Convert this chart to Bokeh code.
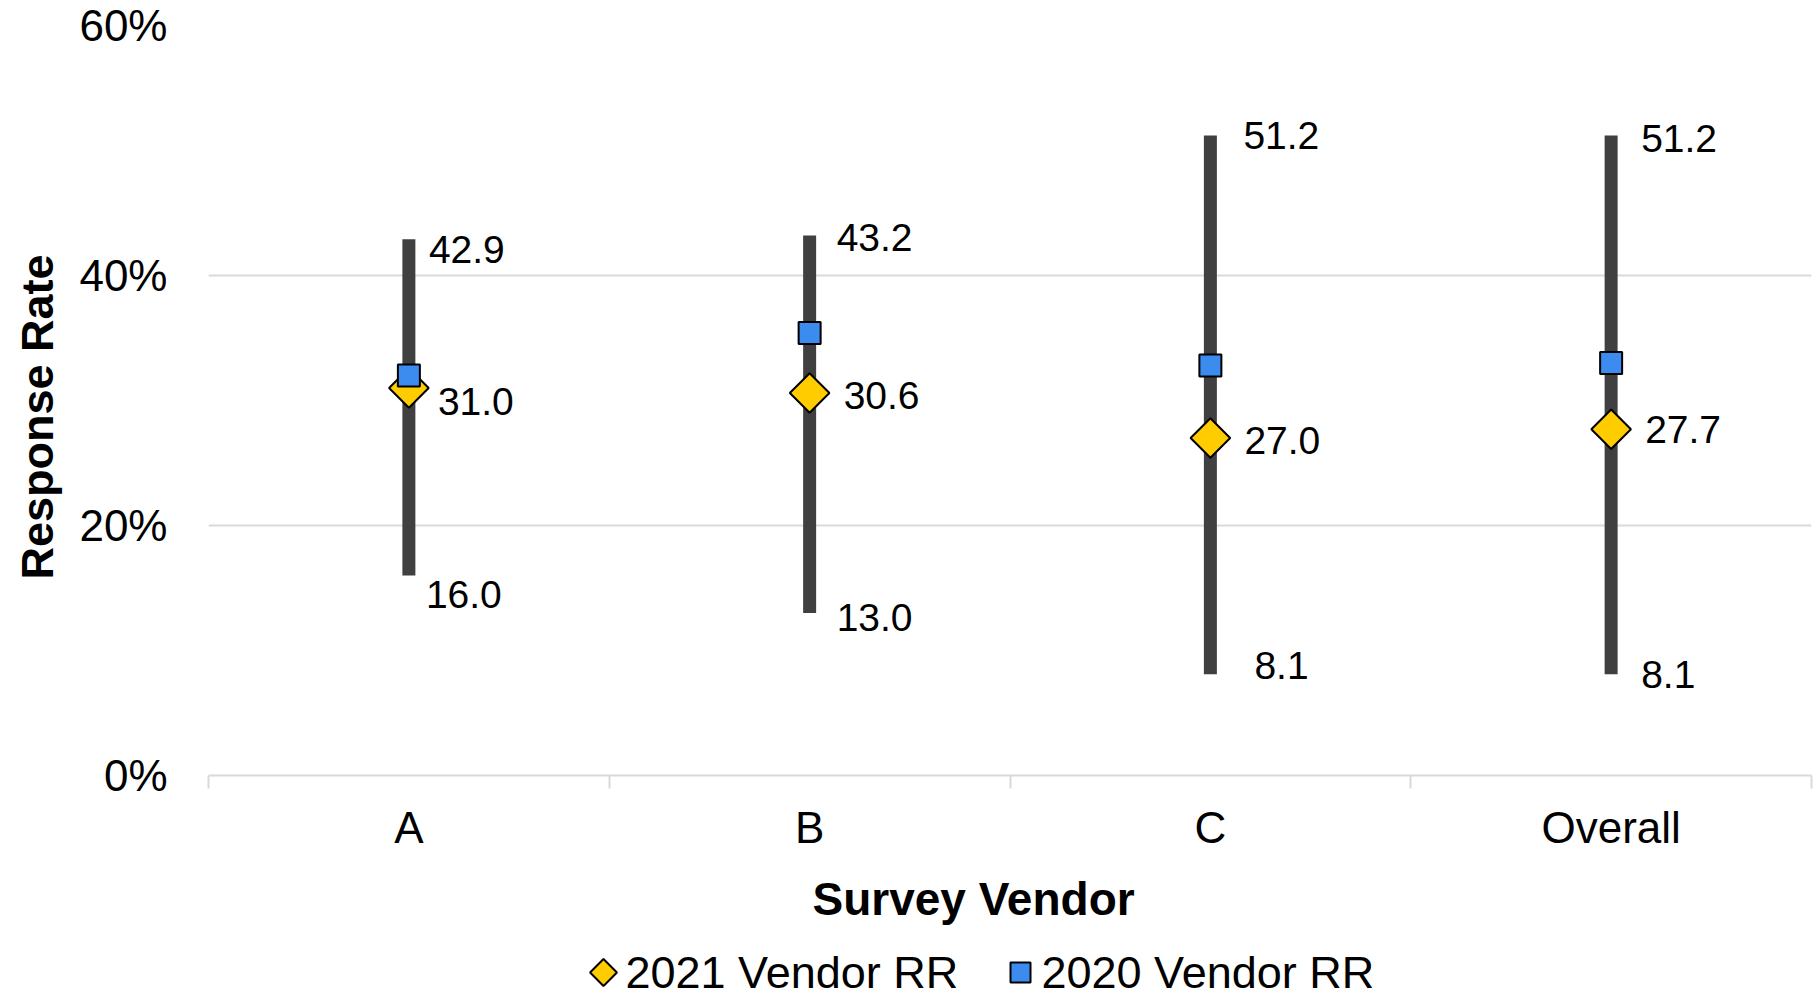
import math
from bokeh.plotting import figure
from bokeh.layouts import column
from bokeh.models import Range1d, FixedTicker, Title, ColumnDataSource
from bokeh.core.properties import value
from bokeh.embed import file_html
from bokeh.resources import INLINE

# ---- data ----
categories = ["A", "B", "C", "Overall"]
rr_2021 = [31.0, 30.6, 27.0, 27.7]
rr_2020 = [32.0, 35.4, 32.8, 33.0]
rr_min = [16.0, 13.0, 8.1, 8.1]
rr_max = [42.9, 43.2, 51.2, 51.2]
y_ticks = [0, 20, 40, 60]
y_tick_labels = ["0%", "20%", "40%", "60%"]
series_names = ["2021 Vendor RR", "2020 Vendor RR"]

# label nudges (screen px) - styling only
top_dx = [20, 27, 33, 30]
top_dy = [10, 2, 0, 3]
bot_dx = [17, 27, 44, 30]
bot_dy = [19, 4, -9, 0]
mid_dx = [29, 34, 34, 34]
mid_dy = [13, 2, 2, 0]

# legend layout (px within the legend strip) - styling only
leg_marker_x = [395, 812]
leg_text_x = [417, 833]
leg_y = 25

FONT = "Liberation Sans"
YELLOW = "#ffcc00"
BLUE = "#3c8cf0"

xs = [i + 0.5 for i in range(len(categories))]

p = figure(width=1819, height=942,
           x_range=Range1d(0, len(categories)), y_range=Range1d(0, 60),
           output_backend="svg", toolbar_location=None,
           min_border_left=208, min_border_right=8,
           min_border_top=25, min_border_bottom=167)
p.outline_line_color = None
p.background_fill_color = "white"
p.border_fill_color = "white"

# x axis
p.xaxis.ticker = FixedTicker(ticks=xs, minor_ticks=list(range(len(categories) + 1)))
p.xaxis.major_label_overrides = {x: c for x, c in zip(xs, categories)}
p.xaxis.major_tick_line_color = None
p.xaxis.major_tick_out = 0
p.xaxis.major_tick_in = 0
p.xaxis.minor_tick_line_color = "#d9d9d9"
p.xaxis.minor_tick_line_width = 2
p.xaxis.minor_tick_out = 13
p.xaxis.minor_tick_in = 0
p.xaxis.axis_line_color = "#d9d9d9"
p.xaxis.axis_line_width = 2
p.xaxis.major_label_text_font = FONT
p.xaxis.major_label_text_font_size = "44px"
p.xaxis.major_label_text_color = "black"
p.xaxis.major_label_standoff = 14
p.xgrid.grid_line_color = None

# y axis
p.yaxis.ticker = FixedTicker(ticks=y_ticks)
p.yaxis.major_label_overrides = {t: l for t, l in zip(y_ticks, y_tick_labels)}
p.yaxis.axis_line_color = None
p.yaxis.major_tick_line_color = None
p.yaxis.minor_tick_line_color = None
p.yaxis.major_tick_out = 0
p.yaxis.major_tick_in = 0
p.yaxis.major_label_text_font = FONT
p.yaxis.major_label_text_font_size = "44px"
p.yaxis.major_label_text_color = "black"
p.yaxis.major_label_standoff = 41
p.ygrid.grid_line_color = "#d9d9d9"
p.ygrid.grid_line_width = 2

src = ColumnDataSource(dict(x=xs, lo=rr_min, hi=rr_max, v21=rr_2021, v20=rr_2020,
                            tlab=[f"{v:.1f}" for v in rr_max],
                            blab=[f"{v:.1f}" for v in rr_min],
                            mlab=[f"{v:.1f}" for v in rr_2021],
                            tdx=top_dx, tdy=top_dy, bdx=bot_dx, bdy=bot_dy,
                            mdx=mid_dx, mdy=mid_dy))

# range bars
p.segment(x0="x", y0="lo", x1="x", y1="hi", source=src, line_width=13,
          line_color="#404040", line_cap="butt")

# markers
diamond_style = dict(marker="square", angle=math.pi / 4, fill_color=YELLOW,
                     line_color="black", line_width=2)
square_style = dict(marker="square", fill_color=BLUE, line_color="black",
                    line_width=2)
p.scatter(x="x", y="v21", source=src, size=28, **diamond_style)
p.scatter(x="x", y="v20", source=src, size=22, **square_style)

# data labels
common = dict(source=src, text_font=value(FONT), text_font_size="39px",
              text_color="black", text_align="left", text_baseline="middle")
p.text(x="x", y="hi", text="tlab", x_offset="tdx", y_offset="tdy", **common)
p.text(x="x", y="lo", text="blab", x_offset="bdx", y_offset="bdy", **common)
p.text(x="x", y="v21", text="mlab", x_offset="mdx", y_offset="mdy", **common)

# axis titles
p.add_layout(Title(text="Survey Vendor", text_font=FONT, text_font_size="46px",
                   text_font_style="bold", text_color="black",
                   align="left", offset=604, standoff=33), "below")
p.add_layout(Title(text="Response Rate", text_font=FONT, text_font_size="45px",
                   text_font_style="bold", text_color="black",
                   align="left", offset=196, standoff=23, vertical_align="top"),
             "left")

# legend strip underneath
pl = figure(width=1819, height=55, x_range=Range1d(0, 1603), y_range=Range1d(0, 55),
            output_backend="svg", toolbar_location=None,
            x_axis_location=None, y_axis_location=None,
            min_border_left=0, min_border_right=0, min_border_top=0,
            min_border_bottom=0)
pl.outline_line_color = None
pl.grid.visible = False
pl.background_fill_color = "white"
pl.border_fill_color = "white"
pl.scatter(x=[leg_marker_x[0]], y=[leg_y], size=19, **diamond_style)
pl.scatter(x=[leg_marker_x[1]], y=[leg_y], size=20, **square_style)
pl.text(x=leg_text_x, y=[leg_y, leg_y], text=series_names,
        text_font=value(FONT), text_font_size="45px", text_color="black",
        text_align="left", text_baseline="middle")

layout = column(p, pl, spacing=0)
open("out.html", "w").write(file_html(layout, INLINE))
